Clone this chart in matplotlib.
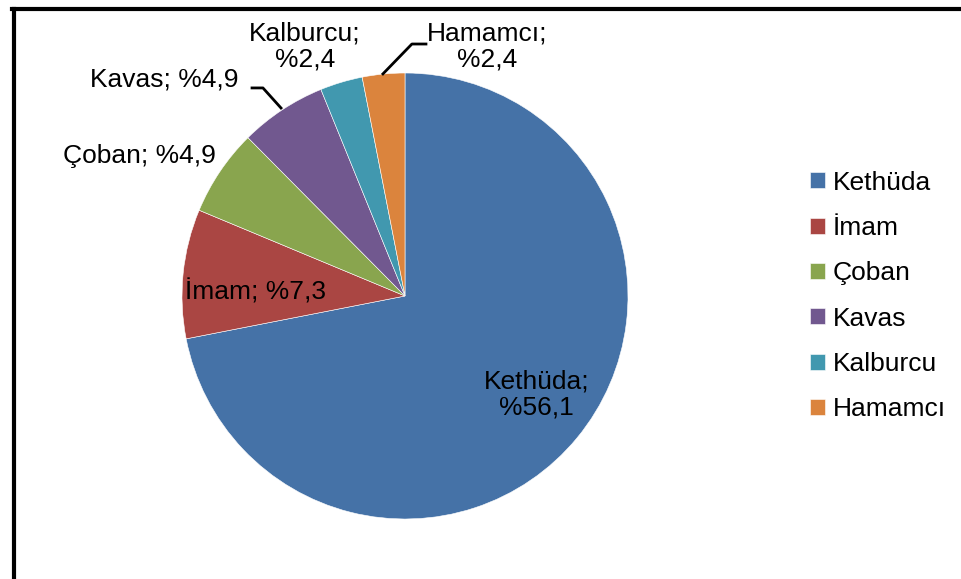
import matplotlib
matplotlib.use("Agg")
import matplotlib.pyplot as plt
from matplotlib.lines import Line2D

plt.rcParams['font.family'] = ['Liberation Sans', 'DejaVu Sans']

# data
labels = ["Kethüda", "İmam", "Çoban", "Kavas", "Kalburcu", "Hamamcı"]
values = [56.1, 7.3, 4.9, 4.9, 2.4, 2.4]
value_text = ["%56,1", "%7,3", "%4,9", "%4,9", "%2,4", "%2,4"]
colors = ["#4572A7", "#AA4643", "#89A54E", "#71588F", "#4198AF", "#DB843D"]

W, H = 961, 579
fig = plt.figure(figsize=(W / 100, H / 100), dpi=100)

# pie centre (405, 296) px, radius 223 px
cx, cy, r = 405, 296, 223
ax = fig.add_axes([(cx - r) / W, (H - cy - r) / H, 2 * r / W, 2 * r / H])
wedges, _ = ax.pie(values, colors=colors, startangle=90, counterclock=False,
                   wedgeprops=dict(edgecolor="white", linewidth=0.4))
ax.set_xlim(-1, 1)
ax.set_ylim(-1, 1)
ax.set_aspect("equal")
ax.axis("off")

# label layout (data units of the pie axes)
lab_pos = [(0.59, -0.44), (-0.67, 0.02), (-1.19, 0.63),
           (-1.08, 0.97), (-0.45, 1.12), (0.37, 1.12)]
two_line = [True, False, False, False, True, True]
for lab, vt, (x, y), tl in zip(labels, value_text, lab_pos, two_line):
    s = f"{lab};\n{vt}" if tl else f"{lab}; {vt}"
    ax.text(x, y, s, ha="center", va="center", fontsize=19,
            linespacing=1.1, clip_on=False)

# leader lines
ax.plot([-0.686, -0.637, -0.556], [0.933, 0.933, 0.843],
        color="black", lw=2, clip_on=False)
ax.plot([0.094, 0.031, -0.099], [1.130, 1.130, 0.996],
        color="black", lw=2, clip_on=False)

leg = fig.legend(wedges, labels, loc="center left",
                 bbox_to_anchor=(797 / W, 1 - 296 / H), frameon=False,
                 fontsize=19, handlelength=0.55, handleheight=0.55,
                 handletextpad=0.3, labelspacing=0.81, borderpad=0)

# outer frame (only top and left are visible)
fig.add_artist(Line2D([12 / W, 1], [1 - 9 / H, 1 - 9 / H], color="black", lw=3))
fig.add_artist(Line2D([14 / W, 14 / W], [0, 1 - 9 / H], color="black", lw=3))

fig.savefig("out.png", dpi=100)
